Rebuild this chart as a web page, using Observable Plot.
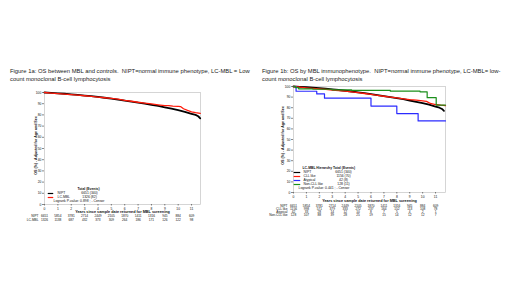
<!DOCTYPE html>
<html><head><meta charset="utf-8">
<script src="https://cdn.jsdelivr.net/npm/d3@7"></script>
<script src="https://cdn.jsdelivr.net/npm/@observablehq/plot@0.6"></script>
<style>
body{margin:0;width:520px;height:292px;background:#fff;position:relative;overflow:hidden;font-family:"Liberation Sans",Arial,sans-serif}
.title{position:absolute;font-size:5.85px;line-height:8.2px;color:#222;white-space:nowrap}
.panel{position:absolute}
</style></head><body>
<div class="title" id="t1" style="left:10px;top:67px"></div>
<div class="title" id="t2" style="left:262px;top:67px"></div>
<div id="a" class="panel" style="left:0;top:86px"></div>
<div id="b" class="panel" style="left:255px;top:80px"></div>
<script>
// ---------- text ----------
const titleA = ["Figure 1a: OS between MBL and controls.\u00a0 NIPT=normal immune phenotype, LC-MBL = Low", "count monoclonal B-cell lymphocytosis"];
const titleB = ["Figure 1b: OS by MBL immunophenotype.\u00a0 NIPT=normal immune phenotype, LC-MBL= low-", "count monoclonal B-cell lymphocytosis"];
const yLabel = "OS (%) - Adjusted for Age and Sex";
const xLabel = "Years since sample date returned for MBL screening";

// ---------- ticks ----------
const years = [0,1,2,3,4,5,6,7,8,9,10,11];
const yTicks = [0,10,20,30,40,50,60,70,80,90,100];

// ---------- Figure 1a curves ----------
const niptT = [0,0.5,1,1.5,2,2.5,3,3.5,4,4.5,5,5.5,6,6.5,7,7.5,8,8.5,9,9.5,10,10.5,11,11.3,11.5,11.65];
const niptS = [100,99.7,99.3,98.9,98.4,97.9,97.3,96.7,96.0,95.3,94.5,93.7,92.8,91.9,91.0,90.0,89.0,88.0,86.8,85.6,84.3,82.8,81.0,80.0,78.8,77.0];
const lcmblT = [0,0.5,1,1.5,2,2.5,3,3.5,4,4.5,5,5.5,6,6.5,7,7.5,8,8.5,9,9.3,9.6,10,10.2,10.4,10.7,11,11.3,11.65];
const lcmblS = [100,99.5,99.0,98.6,98.1,97.6,97.1,96.5,95.9,95.3,94.7,94.0,93.0,92.2,91.3,90.6,89.8,89.0,88.3,88.2,87.8,87.6,87.3,85.5,84.0,82.8,82.0,81.3];

// ---------- Figure 1b curves ----------
const cllT = [0,0.5,1,1.5,2,2.5,3,3.5,4,4.5,5,5.5,6,6.5,7,7.5,8,8.5,9,9.5,10,10.3,10.6,11,11.4,11.77];
const cllS = [100,99.4,98.8,98.3,97.8,97.3,96.7,96.1,95.6,94.9,94.2,93.4,92.5,91.6,90.8,90.0,89.2,88.4,87.6,87.2,86.5,86.0,84.0,83.0,82.4,82.0];
const atypT = [0,0.2,1.8,2.4,6.0,8.0,9.65,11.77];
const atypS = [100,95.5,93.0,89.0,81.5,74.5,67.5,67.5];
const nonT = [0,0.15,0.4,1.5,3.0,4.5,7.5,9.8,10.35,11.05,11.77];
const nonS = [100,99.0,97.8,97.4,96.9,96.3,95.6,95.0,89.5,82.5,82.5];

// ---------- numbers at risk ----------
const riskNipt = ["6651","5854","3781","2714","2449","2105","1870","1411","1316","945","884","609"];
const riskLcmbl = ["1326","1138","687","432","373","309","264","186","171","126","122","98"];
const riskCll = ["1156","998","571","379","333","272","237","164","152","113","108","78"];
const riskAtyp = ["42","33","28","14","12","10","8","7","5","4","2","1"];
const riskNon = ["128","107","88","39","28","25","19","15","14","12","12","7"];

// ---------- legends ----------
const legendA = {header: "Total (Events)", names: ["NIPT","LC-MBL"], totals: ["6651 (340)","1326 (82)"], p: "Logrank P-value: 0.898 ; - Censor"};
const legendB = {header: "LC-MBL Hierarchy Total (Events)", names: ["NIPT","CLL like","Atypical","Non-CLL like"], totals: ["6651 (340)","1156 (70)","42 (8)","128 (11)"], p: "Logrank P-value: 0.441 ; - Censor"};

const BLACK = "#000000", RED = "#ff1a0a", BLUE = "#2b2bff", GREEN = "#1b8f1b";

document.getElementById("t1").innerHTML = titleA.join("<br>");
document.getElementById("t2").innerHTML = titleB.join("<br>");

const pts = (T, S) => T.map((t, i) => ({t, s: S[i]}));

function panel({width, height, mL, mR, mT, mB, xmax, curves, risk, legend, lay}) {
  const marks = [
    Plot.frame({stroke: "#c4c4c4", strokeWidth: 0.7}),
    Plot.axisY({ticks: yTicks, tickSize: 2, tickPadding: 1.2, fontSize: 3.3, label: null, tickFormat: d => d, strokeWidth: 0.5}),
    Plot.axisX({ticks: years, tickSize: 1.5, tickPadding: 1.2, fontSize: 3.3, label: null, tickFormat: d => d, strokeWidth: 0.5}),
    Plot.text([yLabel], {frameAnchor: "left", textAnchor: "middle", rotate: -90, dx: lay.ylabDx, dy: lay.ylabDy, fontSize: 3.6, fontWeight: "bold"}),
    Plot.text([xLabel], {frameAnchor: "bottom", dy: lay.xlabDy, fontSize: 3.8, fontWeight: "bold"})
  ];
  for (const c of curves) {
    marks.push(Plot.line(pts(c.T, c.S), {x: "t", y: "s", stroke: c.color, strokeWidth: c.w, curve: c.curve}));
  }
  risk.forEach((r, k) => {
    const dy = lay.riskDy0 + k * lay.riskStep;
    marks.push(Plot.text(years, {x: d => d, text: (d, i) => r.values[i], frameAnchor: "bottom", dy, fontSize: 3.2, fill: "#111"}));
    marks.push(Plot.text([0], {x: d => d, text: () => r.name, frameAnchor: "bottom", dy, dx: -6, textAnchor: "end", fontSize: 3.2, fill: "#111"}));
  });
  // legend
  const L = lay.leg;
  marks.push(Plot.text([legend.header], {frameAnchor: "bottom-left", dx: L.headDx, dy: L.dy0, textAnchor: L.headAnchor, fontSize: 3.4, fontWeight: "bold"}));
  legend.names.forEach((n, k) => {
    const dy = L.dy0 + (k + 1) * L.step;
    marks.push(Plot.ruleY([0], {x1: L.x1, x2: L.x2, dy, stroke: curves[k].color, strokeWidth: 1.2}));
    marks.push(Plot.text([n], {frameAnchor: "bottom-left", dx: L.nameDx, dy, textAnchor: "start", fontSize: 3.4}));
    marks.push(Plot.text([legend.totals[k]], {frameAnchor: "bottom-left", dx: L.totDx, dy, textAnchor: "middle", fontSize: 3.4}));
  });
  marks.push(Plot.text([legend.p], {frameAnchor: "bottom-left", dx: L.pDx, dy: L.dy0 + (legend.names.length + 1) * L.step, textAnchor: "start", fontSize: 3.4}));

  return Plot.plot({
    width, height, marginLeft: mL, marginRight: mR, marginTop: mT, marginBottom: mB,
    x: {domain: [0, xmax], label: null},
    y: {domain: [0, 100], label: null},
    style: {fontFamily: "'Liberation Sans', Arial, sans-serif", background: "transparent", color: "#111", overflow: "visible"},
    marks
  });
}

document.getElementById("a").append(panel({
  width: 215, height: 145, mL: 44, mR: 15, mT: 6, mB: 27, xmax: 11.67,
  curves: [
    {T: niptT, S: niptS, color: BLACK, w: 1.8, curve: "linear"},
    {T: lcmblT, S: lcmblS, color: RED, w: 1.3, curve: "linear"}
  ],
  risk: [{name: "NIPT", values: riskNipt}, {name: "LC-MBL", values: riskLcmbl}],
  legend: legendA,
  lay: {ylabDx: -9, ylabDy: -3, xlabDy: 8.5, riskDy0: 12.5, riskStep: 3.8,
        leg: {headDx: 44, headAnchor: "middle", dy0: -15, step: 4, x1: 0.28, x2: 0.69, nameDx: 13, totDx: 45, pDx: 9}}
}));

document.getElementById("b").append(panel({
  width: 265, height: 145, mL: 38, mR: 75, mT: 6, mB: 33, xmax: 11.77,
  curves: [
    {T: niptT, S: niptS, color: BLACK, w: 1.8, curve: "linear"},
    {T: cllT, S: cllS, color: RED, w: 1.3, curve: "linear"},
    {T: atypT, S: atypS, color: BLUE, w: 1.2, curve: "step-after"},
    {T: nonT, S: nonS, color: GREEN, w: 1.2, curve: "step-after"}
  ],
  risk: [{name: "NIPT", values: riskNipt}, {name: "CLL like", values: riskCll}, {name: "Atypical", values: riskAtyp}, {name: "Non-CLL like", values: riskNon}],
  legend: legendB,
  lay: {ylabDx: -10.5, ylabDy: -4, xlabDy: 9.7, riskDy0: 14, riskStep: 3.3,
        leg: {headDx: 9, headAnchor: "start", dy0: -24, step: 4, x1: 0.05, x2: 0.56, nameDx: 10, totDx: 50, pDx: 5}}
}));
</script>
</body></html>
